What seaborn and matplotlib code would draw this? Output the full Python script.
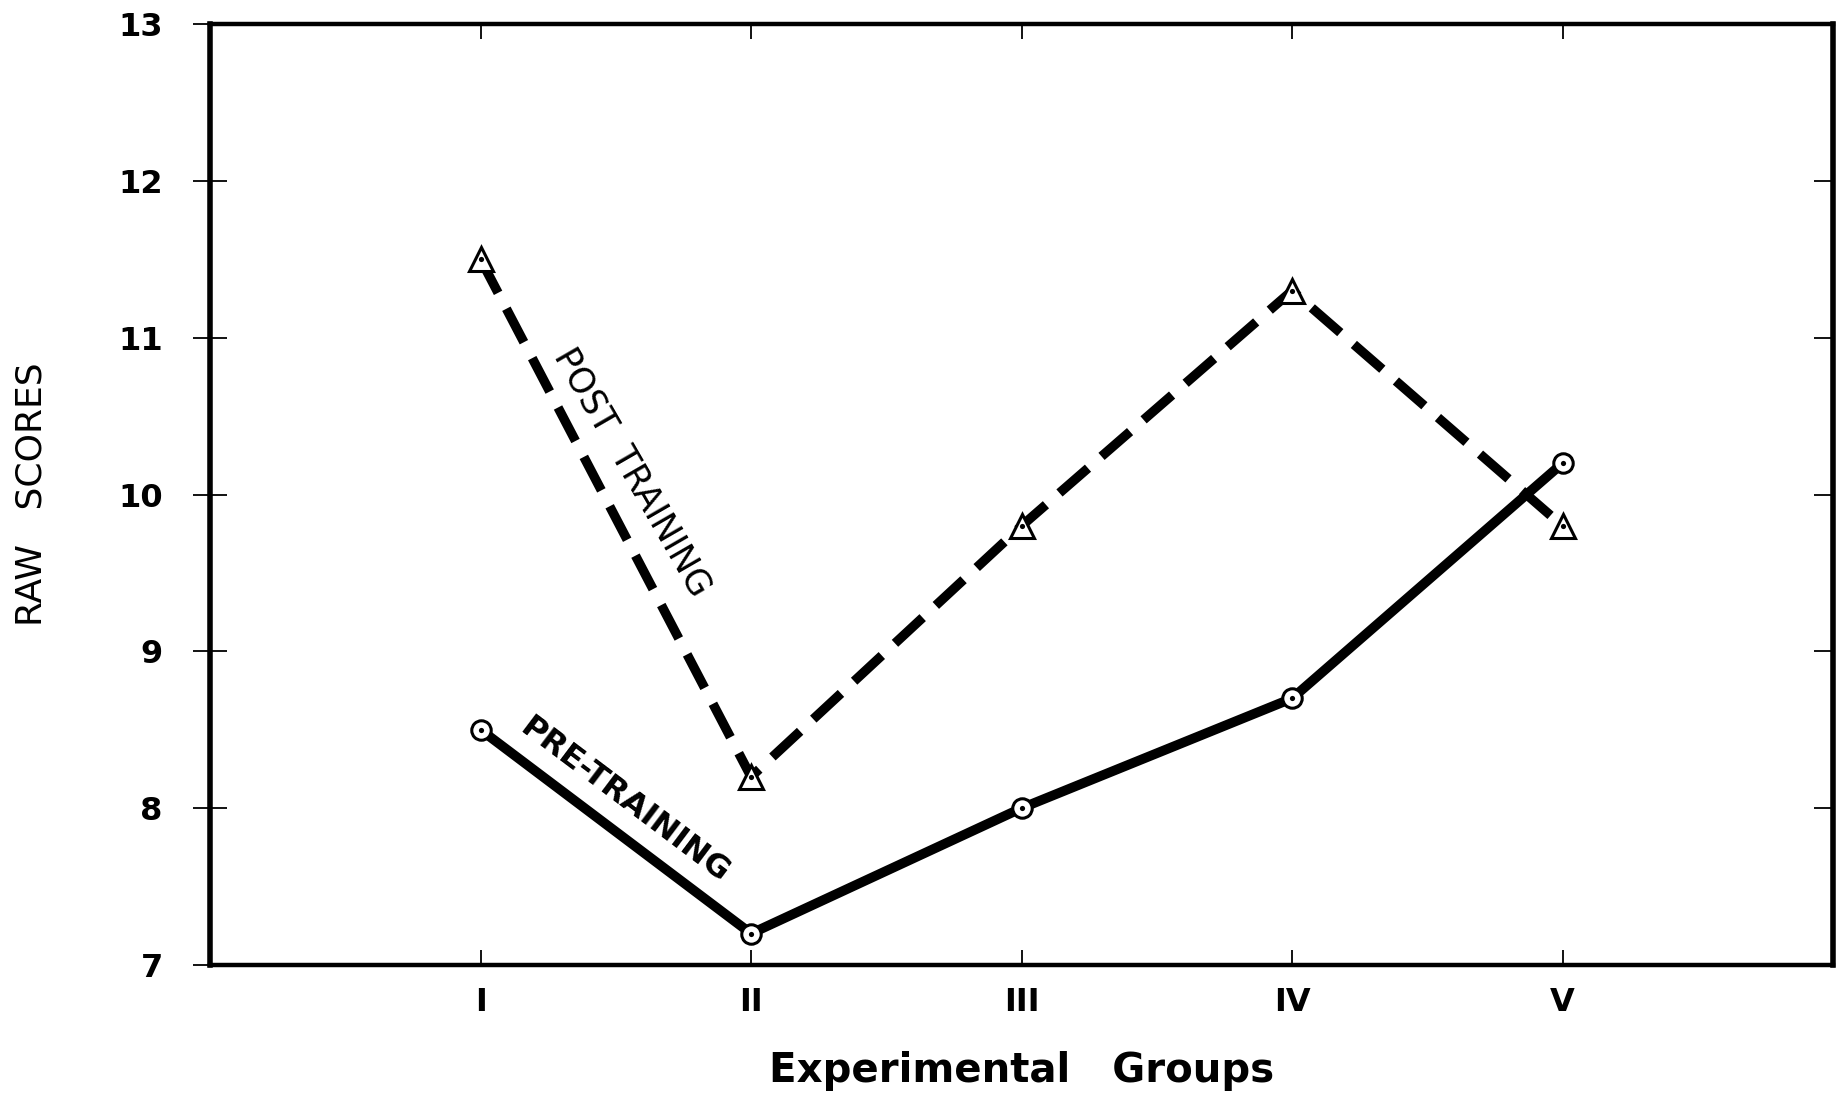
import numpy as np
import matplotlib
matplotlib.use("Agg")
import matplotlib.pyplot as plt
import seaborn as sns

# groups on the x axis
groups = ["I", "II", "III", "IV", "V"]
group_pos = [1, 2, 3, 4, 5]

# raw scores
pre_training = [8.5, 7.2, 8.0, 8.7, 10.2]
post_training = [11.5, 8.2, 9.8, 11.3, 9.8]

y_ticks = [7, 8, 9, 10, 11, 12, 13]

sns.set_style("white")
plt.rcParams["font.family"] = ["DejaVu Sans"]
plt.rcParams["text.color"] = "black"

fig = plt.figure(figsize=(18.46, 10.99), dpi=100)
ax = fig.add_axes([0.1138, 0.122, 0.8792, 0.856])

# post training: heavy dashed line with open triangles
sns.lineplot(x=group_pos, y=post_training, ax=ax, color="black",
             linewidth=6.8, linestyle=(0, (4.0, 1.9)),
             marker="^", markersize=17, markerfacecolor="white",
             markeredgecolor="black", markeredgewidth=2.2, zorder=3)

# pre training: heavy solid line with open circles
sns.lineplot(x=group_pos, y=pre_training, ax=ax, color="black",
             linewidth=7.0, marker="o", markersize=14,
             markerfacecolor="white", markeredgecolor="black",
             markeredgewidth=2.2, zorder=4)

# centre dots inside the markers
sns.scatterplot(x=group_pos, y=post_training, ax=ax, color="black",
                s=14, linewidth=0, zorder=5)
sns.scatterplot(x=group_pos, y=pre_training, ax=ax, color="black",
                s=14, linewidth=0, zorder=5)

ax.set_xlim(0, 6)
ax.set_ylim(7, 13)
ax.set_xticks(group_pos)
ax.set_xticklabels(groups, fontsize=23, fontweight="bold")
ax.set_yticks(y_ticks)
ax.set_yticklabels([str(v) for v in y_ticks], fontsize=23, fontweight="bold")

for side in ["left", "right", "top", "bottom"]:
    ax.spines[side].set_visible(True)
    ax.spines[side].set_color("black")
    ax.spines[side].set_linewidth(3.2)
ax.spines["left"].set_linewidth(4.0)
ax.spines["right"].set_linewidth(4.0)

ax.tick_params(axis="y", which="major", left=True, right=False,
               direction="inout", length=24, width=1.3, pad=22,
               colors="black", labelcolor="black")
ax.tick_params(axis="x", which="major", bottom=True, top=True,
               direction="in", length=11, width=1.3, pad=16,
               colors="black", labelcolor="black")

# right side: inward ticks only, no labels
right_ax = ax.secondary_yaxis("right")
right_ax.set_yticks(y_ticks)
right_ax.tick_params(axis="y", direction="in", length=14, width=1.3,
                     labelright=False, colors="black")
right_ax.spines["right"].set_visible(False)

ax.set_xlabel("Experimental   Groups", fontsize=29, fontweight="bold",
              labelpad=24, color="black")
ax.set_ylabel("RAW   SCORES", fontsize=26, labelpad=50, color="black",
              family=["Liberation Sans Narrow", "DejaVu Sans"])

ax.text(1.56, 10.14, "POST  TRAINING", rotation=-60, fontsize=25,
        ha="center", va="center", rotation_mode="anchor")
ax.text(1.53, 8.05, "PRE-TRAINING", rotation=-37, fontsize=23,
        fontweight="bold", ha="center", va="center", rotation_mode="anchor")

fig.savefig("out.png", dpi=100, facecolor="white")
